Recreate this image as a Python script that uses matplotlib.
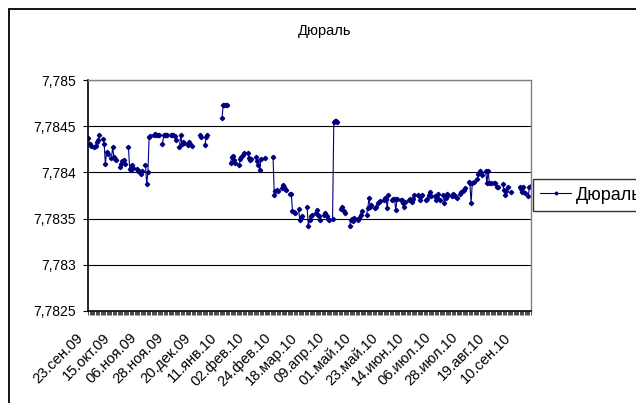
import numpy as np
import pandas as pd
import matplotlib
matplotlib.use("Agg")
import matplotlib.pyplot as plt
import matplotlib.dates as mdates
from matplotlib.patches import Rectangle
from matplotlib.transforms import ScaledTranslation

plt.rcParams['font.family'] = ['Liberation Sans', 'DejaVu Sans']

nan = np.nan
title = "Дюраль"
series_name = "Дюраль"

# business days 23.09.2009 .. 22.09.2010 (blank = gap)
weeks = [
    [7.78437, 7.78431, 7.78429],
    [7.78428, 7.78429, 7.78433, 7.78435, 7.78441],
    [7.78436, 7.78431, 7.78409, 7.78422, 7.78420],
    [7.78416, 7.78427, 7.78417, 7.78415, 7.78413],
    [7.78406, 7.78409, 7.78412, 7.78413, 7.78409],
    [7.78427, 7.78404, 7.78403, 7.78408, 7.78405],
    [7.78404, 7.78402, 7.78401, 7.78398, 7.78402],
    [7.78408, 7.78387, 7.78400, 7.78438, 7.78439],
    [7.78440, 7.78442, 7.78441, 7.78440, 7.78441],
    [7.78431, 7.78440, 7.78441, 7.78440, 7.78441],
    [7.78440, 7.78441, 7.78440, 7.78439, 7.78435],
    [7.78428, 7.78441, 7.78431, 7.78433, 7.78432],
    [7.78430, 7.78433, 7.78431, 7.78429, nan],
    [nan, nan, nan, 7.78441, 7.78438],
    [7.78430, 7.78438, 7.78440, nan, nan],
    [nan, nan, nan, nan, nan],
    [7.78459, 7.78473, 7.78473, 7.78473, 7.78473],
    [7.78410, 7.78417, 7.78418, 7.78413, 7.78410],
    [7.78408, 7.78414, 7.78417, 7.78419, 7.78421],
    [7.78421, 7.78416, 7.78413, 7.78415, nan],
    [7.78417, 7.78412, 7.78408, 7.78403, 7.78414],
    [7.78416, nan, nan, nan, nan],
    [7.78417, 7.78376, 7.78380, 7.78381, 7.78380],
    [7.78383, 7.78386, 7.78384, 7.78382, 7.78381],
    [7.78377, 7.78377, 7.78358, 7.78357, 7.78356],
    [7.78360, 7.78349, 7.78351, 7.78353, nan],
    [7.78363, 7.78342, 7.78349, 7.78353, 7.78354],
    [7.78356, 7.78359, 7.78354, 7.78353, 7.78349],
    [7.78354, 7.78356, 7.78353, 7.78350, 7.78349],
    [7.78350, 7.78455, 7.78456, 7.78456, 7.78455],
    [7.78360, 7.78363, 7.78358, 7.78356, nan],
    [7.78342, 7.78348, 7.78350, 7.78347, 7.78351],
    [7.78349, 7.78351, 7.78354, 7.78358, nan],
    [7.78354, 7.78362, 7.78372, 7.78363, 7.78365],
    [7.78362, 7.78363, 7.78367, 7.78368, 7.78369],
    [7.78370, 7.78372, 7.78371, 7.78361, 7.78376],
    [7.78370, 7.78371, 7.78371, 7.78359, 7.78371],
    [7.78370, 7.78370, 7.78367, 7.78363, 7.78368],
    [7.78370, 7.78371, 7.78368, 7.78371, 7.78376],
    [7.78376, 7.78374, 7.78370, 7.78374, 7.78376],
    [7.78370, 7.78371, 7.78376, 7.78379, 7.78374],
    [7.78374, 7.78370, 7.78372, 7.78377, 7.78370],
    [7.78376, 7.78367, 7.78372, 7.78377, 7.78376],
    [7.78375, 7.78377, 7.78376, 7.78374, 7.78372],
    [7.78377, 7.78379, 7.78380, 7.78381, 7.78383],
    [7.78390, 7.78388, 7.78367, 7.78389, 7.78390],
    [7.78393, 7.78398, 7.78402, 7.78399, 7.78397],
    [7.78401, 7.78388, 7.78402, 7.78388, 7.78389],
    [7.78389, 7.78388, 7.78384, 7.78384, nan],
    [7.78387, 7.78381, 7.78376, 7.78380, 7.78384],
    [7.78379, nan, nan, nan, nan],
    [7.78384, 7.78382, 7.78379, 7.78384, 7.78378],
    [7.78374, 7.78384, 7.78385],
]
values = [v for w in weeks for v in w]

start = "2009-09-23"
end = "2010-09-22"
tick_labels = ["23.сен.09", "15.окт.09", "06.ноя.09", "28.ноя.09", "20.дек.09",
               "11.янв.10", "02.фев.10", "24.фев.10", "18.мар.10", "09.апр.10",
               "01.май.10", "23.май.10", "14.июн.10", "06.июл.10", "28.июл.10",
               "19.авг.10", "10.сен.10"]
y_ticks = [7.7825, 7.783, 7.7835, 7.784, 7.7845, 7.785]
y_labels = ["7,7825", "7,783", "7,7835", "7,784", "7,7845", "7,785"]

bdays = pd.bdate_range(start, end)
s = pd.Series(values, index=bdays).reindex(pd.date_range(start, end))

W, H = 636, 403
fig = plt.figure(figsize=(W / 100, H / 100), dpi=100)
fig.patch.set_facecolor("white")

# outer chart frame (cut off on right and bottom)
fig.patches.append(Rectangle((9 / W, -0.2), 2, 1.2 - 9 / H, transform=fig.transFigure,
                             fill=False, ec="black", lw=1.3))

ax = fig.add_axes([88 / W, 1 - 311 / H, (531 - 88) / W, (311 - 80) / H])
line, = ax.plot(s.index, s.values, color="#000080", lw=0.8, marker="D", ms=2.2,
                mec="#000080", mfc="#000080", label=series_name)

t0 = pd.Timestamp(start)
ax.set_xlim(t0 - pd.Timedelta(days=0.3), pd.Timestamp(end) + pd.Timedelta(days=0.3))
ax.set_ylim(7.7825, 7.785)

ax.set_yticks(y_ticks)
ax.set_yticklabels(y_labels, fontsize=10)
for yv in y_ticks[1:]:
    ax.axhline(yv, color="black", lw=0.8, zorder=0)

major = [t0 + pd.Timedelta(days=22 * i) for i in range(len(tick_labels))]
ax.set_xticks(major)
ax.set_xticklabels(tick_labels, fontsize=10.5, rotation=45, ha="right", va="top",
                   rotation_mode="anchor")
ax.xaxis.set_minor_locator(mdates.DayLocator())
ax.tick_params(axis="x", which="both", direction="out", length=3, width=0.5, pad=11)
ax.tick_params(axis="y", direction="out", length=3.5, width=0.8, pad=5)
for lbl in ax.get_xticklabels():
    lbl.set_transform(lbl.get_transform() + ScaledTranslation(-12 / 100, 0, fig.dpi_scale_trans))

for side in ["left", "bottom"]:
    ax.spines[side].set_color("black")
    ax.spines[side].set_linewidth(1.2)
for side in ["top", "right"]:
    ax.spines[side].set_color("#808080")
    ax.spines[side].set_linewidth(1.0)

fig.text(325 / W, 1 - 31 / H, title, ha="center", va="center", fontsize=10.5)

leg = fig.legend(handles=[line], loc="upper left", bbox_to_anchor=(532.5 / W, 1 - 179.5 / H),
                 bbox_transform=fig.transFigure, borderaxespad=0, fontsize=13,
                 frameon=True, fancybox=False, handlelength=1.75, handletextpad=0.25,
                 borderpad=0.4, markerscale=0.7)
leg.get_frame().set_edgecolor("black")
leg.get_frame().set_linewidth(1.0)

fig.savefig("out.png", dpi=100)
